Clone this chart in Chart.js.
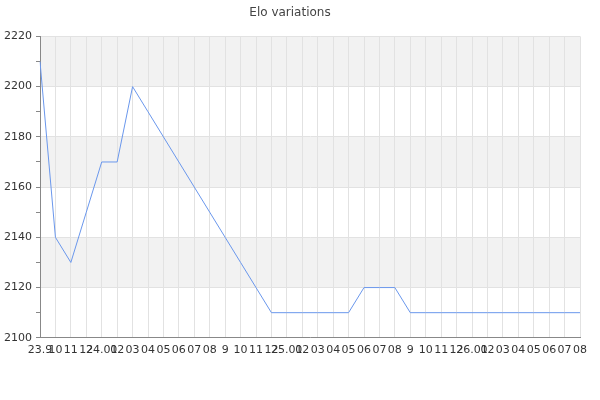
<!DOCTYPE html>
<html>
<head>
<meta charset="utf-8">
<script src="https://cdn.jsdelivr.net/npm/chart.js@4/dist/chart.umd.min.js"></script>
<style>
  html, body { margin: 0; padding: 0; background: #ffffff; }
  #wrap { width: 600px; height: 400px; }
</style>
</head>
<body>
<div id="wrap"><canvas id="elo-chart"></canvas></div>
<script>
// ============= DATA =============

// month labels (year prefix on january / first point)
const monthLabels = [
  '23.9', '10', '11', '12',
  '24.01', '02', '03', '04', '05', '06', '07', '08', '9', '10', '11', '12',
  '25.01', '02', '03', '04', '05', '06', '07', '08', '9', '10', '11', '12',
  '26.01', '02', '03', '04', '05', '06', '07', '08'
];

// elo rating per month
const eloValues = [
  2210, 2140, 2130, 2150,
  2170, 2170, 2200, 2190, 2180, 2170, 2160, 2150, 2140, 2130, 2120, 2110,
  2110, 2110, 2110, 2110, 2110, 2120, 2120, 2120, 2110, 2110, 2110, 2110,
  2110, 2110, 2110, 2110, 2110, 2110, 2110, 2110
];

// y axis range
const yMin = 2100;
const yMax = 2220;
const yLabelStep = 20;

// ============= CHART =============

// alternating grey bands between labelled y ticks
const bandPlugin = {
  id: 'bands',
  beforeDraw(chart) {
    const { ctx, chartArea, scales } = chart;
    const y = scales.y;
    ctx.save();
    ctx.fillStyle = '#f2f2f2';
    let k = 0;
    for (let v = yMax; v > yMin; v -= yLabelStep) {
      if (k % 2 === 0) {
        const top = y.getPixelForValue(v);
        const bottom = y.getPixelForValue(v - yLabelStep);
        ctx.fillRect(chartArea.left, top, chartArea.right - chartArea.left, bottom - top);
      }
      k++;
    }
    ctx.restore();
  }
};

const ctx = document.getElementById('elo-chart').getContext('2d');

const eloChart = new Chart(ctx, {
  type: 'line',
  data: {
    labels: monthLabels,
    datasets: [{
      label: 'Elo',
      data: eloValues,
      borderColor: '#6a97ec',
      borderWidth: 1,
      pointRadius: 0,
      tension: 0,
      fill: false
    }]
  },
  options: {
    responsive: true,
    maintainAspectRatio: false,
    animation: false,
    layout: {
      padding: { left: 0, right: 20, top: 0, bottom: 37 }
    },
    plugins: {
      legend: { display: false },
      tooltip: { enabled: false },
      title: {
        display: true,
        text: 'Elo variations',
        color: '#444',
        font: { family: 'DejaVu Sans', size: 12, weight: 'normal' },
        padding: { top: 6, bottom: 16 }
      }
    },
    scales: {
      x: {
        offset: false,
        grid: {
          color: '#e2e2e2',
          drawTicks: false
        },
        border: { color: '#888', width: 1 },
        ticks: {
          autoSkip: false,
          maxRotation: 0,
          minRotation: 0,
          padding: 6,
          color: '#333',
          font: { family: 'DejaVu Sans', size: 11 }
        }
      },
      y: {
        min: yMin,
        max: yMax,
        afterFit(scale) {
          scale.width = 40;
        },
        grid: {
          color: c => (c.tick && c.tick.value % yLabelStep === 0) ? '#e2e2e2' : 'rgba(0,0,0,0)',
          tickColor: '#888',
          tickLength: 4,
          drawTicks: true
        },
        border: { color: '#888', width: 1 },
        ticks: {
          stepSize: 10,
          padding: 4,
          color: '#333',
          font: { family: 'DejaVu Sans', size: 11 },
          callback: v => (v % yLabelStep === 0 ? v : '')
        }
      }
    }
  },
  plugins: [bandPlugin]
});
</script>
</body>
</html>
